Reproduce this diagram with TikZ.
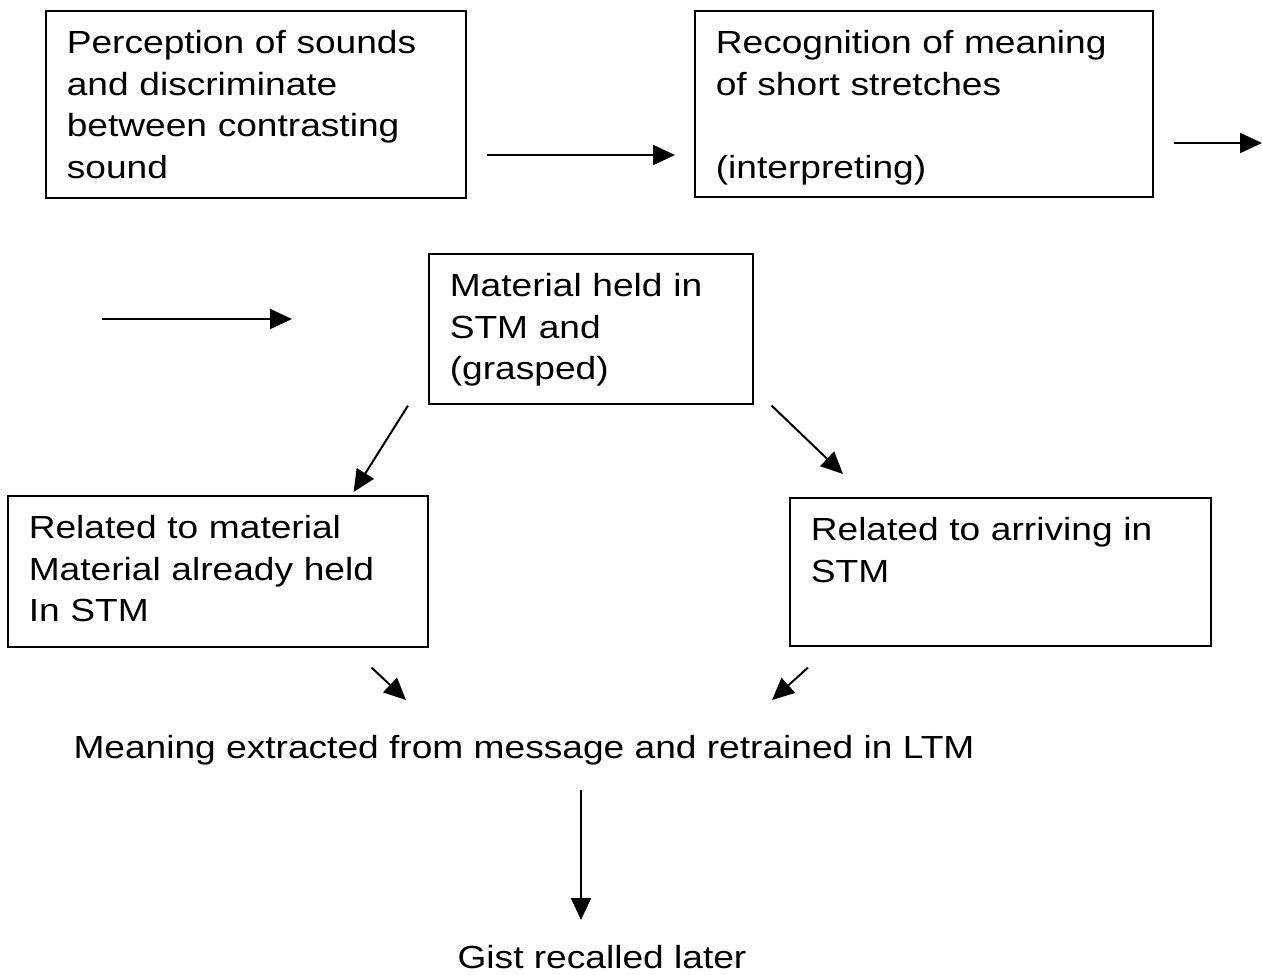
\documentclass[tikz,border=0pt]{standalone}
\usepackage{fontspec}
\setmainfont{Liberation Sans}[FakeStretch=1.16]
\usetikzlibrary{arrows.meta,calc}
\tikzset{
	stage/.style={draw, line width=0.8pt, anchor=north west, align=left,
		inner xsep=10.5pt, inner ysep=0pt, text height=21.5pt},
	plain/.style={anchor=base, inner sep=0pt},
	flow/.style={line width=1pt, -{Triangle[length=11pt,width=10pt]}}
}

\begin{document}
\begin{tikzpicture}[x=0.5pt, y=-0.5pt, font=\fontsize{16}{20.75}\selectfont]
			%%%%% START %%%%%
			\useasboundingbox (0, 0) rectangle (1262, 974);
			
			\node[stage, text width=189pt, text depth=72pt] (perceive) at (45, 10)
				{Perception of sounds\\and discriminate\\between contrasting\\sound};
			\node[stage, text width=208pt, text depth=71.5pt] (recognise) at (694, 10)
				{Recognition of meaning\\of short stretches\\[20.75pt](interpreting)};
			
			\node[stage, text width=141pt, text depth=53.5pt] (held) at (428, 253)
				{Material held in\\STM and\\(grasped)};
			
			\node[stage, text width=189pt, text depth=54pt] (already) at (7, 495)
				{Related to material\\Material already held\\In STM};
			\node[stage, text width=189.5pt, text depth=52.5pt] (arriving) at (789, 497)
				{Related to arriving in\\STM};
			
			\node[plain] (extract) at (524, 758)
				{Meaning extracted from message and retrained in LTM};
			\node[plain] (gist) at (602, 968) {Gist recalled later};
			
			\coordinate (wrapout) at (1262, 143);
			\coordinate (wrapin) at (102, 319);
			
			\draw[flow] ($(perceive.north east)+(20, 145)$) -- ($(recognise.north west)+(-19, 145)$);
			\draw[flow] ($(recognise.north east)+(20, 133)$) -- (wrapout);
			\draw[flow] (wrapin) -- ($(held.north west)+(-136, 66)$);
			
			\draw[flow] ($(held.south west)+(-20, 1)$) -- ($(already.north east)+(-75, -3)$);
			\draw[flow] ($(held.south east)+(18, 1)$) -- ($(arriving.north west)+(54, -23)$);
			
			\draw[flow] ($(already.south east)+(-57, 20)$) -- ($(extract.base)+(-118, -58)$);
			\draw[flow] ($(arriving.south west)+(19, 21)$) -- ($(extract.base)+(248, -58)$);
			
			\draw[flow] ($(extract.base)+(57, 32)$) -- ($(gist.base)+(-21, -48)$);
			%%%%% END %%%%%
\end{tikzpicture}
\end{document}
